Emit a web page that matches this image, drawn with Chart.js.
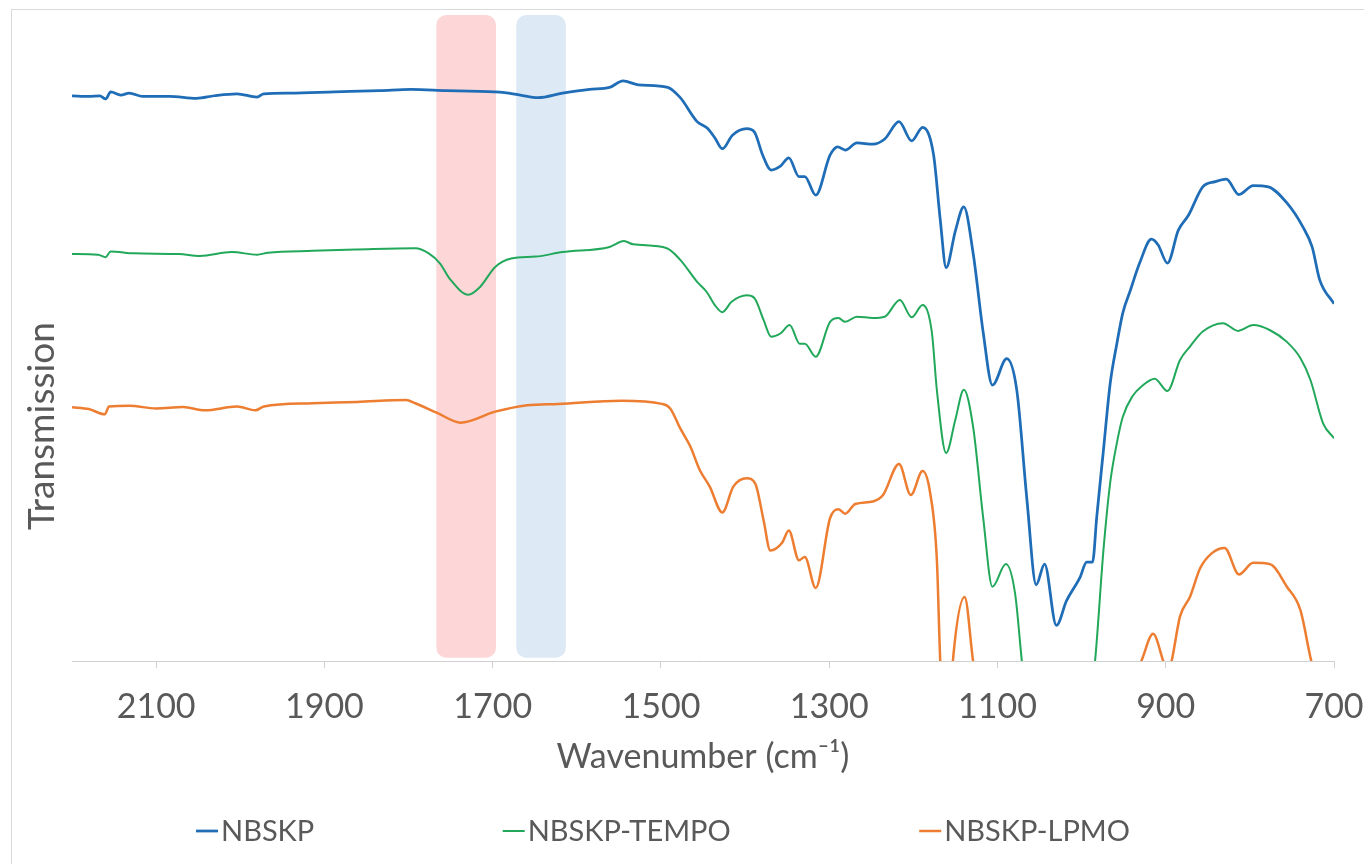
<!DOCTYPE html>
<html>
<head>
<meta charset="utf-8">
<script src="https://cdn.jsdelivr.net/npm/chart.js@4.4.1/dist/chart.umd.min.js"></script>
<style>
html,body{margin:0;padding:0;background:#fff;}
#wrap{width:1364px;height:864px;position:relative;}
</style>
</head>
<body>
<div id="wrap"><canvas id="c" width="1364" height="864"></canvas></div>
<script>
// ---- data ----
const xTicks = [2100, 1900, 1700, 1500, 1300, 1100, 900, 700];
const seriesNames = ['NBSKP', 'NBSKP-TEMPO', 'NBSKP-LPMO'];

const nbskpWn = [2200,2180,2167,2160,2154,2142,2132,2116,2084,2052,2031,2004,1980,1972,1941,1888,1834,1797,1755,1728,1686,1667,1646,1617,1585,1561,1545,1527,1492,1477,1457,1445,1436,1427,1415,1398,1389,1379,1369,1358,1348,1336,1329,1316,1299,1290,1281,1267,1248,1234,1217,1202,1189,1176,1168,1161,1150,1140,1129,1117,1106,1089,1077,1065,1054,1044,1030,1018,1002,994,987,982,974,966,958,951,942,931,917,909,898,885,873,856,841,828,813,796,778,756,737,726,717,700];
const nbskpT = [87.5,87.4,87.5,87.0,88.1,87.6,87.9,87.4,87.4,87.1,87.5,87.8,87.3,87.8,87.9,88.1,88.3,88.5,88.3,88.2,88.0,87.6,87.2,87.9,88.5,88.8,89.8,89.2,88.8,87.2,83.5,82.5,81.0,79.3,81.4,82.4,81.9,78.3,76.0,76.6,77.9,75.0,75.0,72.1,78.3,79.6,79.1,80.2,80.0,80.8,83.5,80.5,82.6,78.4,68.3,60.9,66.6,70.3,63.2,50.9,42.7,46.8,41.9,25.0,11.8,15.0,5.5,9.3,12.9,15.3,15.3,22.3,32.7,43.0,49.2,53.9,57.4,61.6,65.3,64.4,61.6,66.7,69.0,73.4,74.2,74.6,72.2,73.6,73.4,70.9,67.2,64.1,59.0,55.3];

const tempoWn = [2200,2169,2160,2154,2126,2073,2048,2010,1980,1967,1914,1861,1792,1776,1763,1750,1729,1715,1697,1678,1649,1617,1561,1544,1533,1493,1477,1457,1446,1436,1427,1416,1398,1389,1378,1369,1358,1347,1335,1329,1316,1299,1289,1281,1267,1248,1234,1216,1202,1189,1178,1172,1161,1150,1140,1129,1117,1106,1090,1079,1071,1061,1035,1000,984,974,966,958,951,940,927,913,898,883,871,856,832,814,796,776,756,740,728,713,700];
const tempoT = [63.0,62.9,62.5,63.4,63.1,63.0,62.7,63.3,62.9,63.2,63.5,63.7,63.9,63.1,61.6,59.0,56.7,57.9,61.0,62.3,62.6,63.3,64.1,65.0,64.5,63.9,62.1,58.7,57.2,55.1,54.0,55.6,56.6,56.2,52.8,50.2,50.7,52.0,49.1,49.1,47.1,52.5,53.1,52.5,53.3,53.1,53.3,55.9,53.2,55.1,50.9,41.9,32.2,37.4,42.0,36.3,22.2,11.5,15.0,10.4,0,-11,-25,-16,0,17.2,27.6,33.8,37.8,40.9,42.7,43.7,41.8,46.6,48.7,51.0,52.3,51.1,52.0,51.2,49.4,46.9,43.5,36.8,34.5];

const lpmoWn = [2200,2180,2161,2156,2132,2100,2068,2042,2004,1982,1972,1914,1861,1803,1792,1766,1738,1697,1659,1622,1547,1499,1489,1477,1465,1454,1442,1427,1414,1398,1388,1378,1370,1356,1348,1336,1329,1316,1299,1289,1281,1269,1248,1236,1217,1203,1189,1180,1172,1168,1160,1153,1139,1129,1117,1106,1090,1077,1054,1044,1030,1002,987,966,951,940,929,915,903,898,893,883,871,859,845,830,813,796,776,756,740,727,700];
const lpmoT = [39.3,39.0,38.2,39.4,39.5,39.1,39.3,38.8,39.4,38.8,39.4,39.9,40.1,40.4,39.9,38.4,36.9,38.6,39.6,39.8,40.3,39.8,39.1,36.0,33.2,29.6,27.0,23.0,27.0,28.3,27.5,21.8,17.1,18.3,20.2,15.6,16.1,11.3,22.1,23.5,22.8,24.3,24.7,25.7,30.5,25.7,29.4,26.0,15.6,0,-15,0,9.9,0,-10,-18,-14,-20,-48,-45,-55,-47,-45,-20,-8,-3,0,4.2,0,-2,0,6.9,10.0,14.4,16.7,17.5,13.4,15.2,15.0,11.5,7.9,0,-12];

// highlighted wavenumber bands (pink, blue)
const bandFrom = [1767, 1672];
const bandTo = [1696, 1613];

// ---- styles ----
const TEXT = '#595959';
const FONT = "Lato, 'Open Sans', sans-serif";
const colors = ['#1f6db6', '#22a85a', '#ed7d31'];
const widths = [2.75, 2, 2.5];
const bandColors = ['#fdd7d8', '#ddeaf6'];

const toPts = (wn, t) => wn.map((w, i) => ({x: w, y: t[i]}));
const seriesData = [toPts(nbskpWn, nbskpT), toPts(tempoWn, tempoT), toPts(lpmoWn, lpmoT)];

const decor = {
  id: 'decor',
  beforeDraw(chart) {
    const ctx = chart.ctx;
    ctx.save();
    ctx.fillStyle = '#ffffff';
    ctx.fillRect(0, 0, chart.width, chart.height);
    ctx.strokeStyle = '#d9d9d9';
    ctx.lineWidth = 1;
    ctx.strokeRect(11.5, 9.5, 1400, 900);
    ctx.restore();
  },
  beforeDatasetsDraw(chart) {
    const ctx = chart.ctx, xs = chart.scales.x, ys = chart.scales.y;
    ctx.save();
    bandFrom.forEach((f, i) => {
      const x1 = xs.getPixelForValue(f), x2 = xs.getPixelForValue(bandTo[i]);
      const y1 = ys.getPixelForValue(100), y2 = ys.getPixelForValue(0.5);
      ctx.fillStyle = bandColors[i];
      ctx.beginPath();
      ctx.roundRect(Math.min(x1, x2), y1, Math.abs(x2 - x1), y2 - y1, 10);
      ctx.fill();
    });
    ctx.restore();
  },
  afterDraw(chart) {
    const ctx = chart.ctx;
    ctx.save();
    // y axis title
    ctx.fillStyle = TEXT;
    ctx.font = '37px ' + FONT;
    ctx.textAlign = 'center';
    ctx.textBaseline = 'middle';
    ctx.translate(42, 426);
    ctx.rotate(-Math.PI / 2);
    ctx.fillText('Transmission', 0, 0);
    ctx.restore();

    // legend
    ctx.save();
    ctx.font = '29px ' + FONT;
    ctx.textBaseline = 'middle';
    ctx.textAlign = 'left';
    const lineLen = 22, gapLT = 3, cy = 831, left = 196, right = 1130;
    const items = chart.data.datasets.map(d => ({label: d.label, color: d.borderColor, w: d.borderWidth, tw: ctx.measureText(d.label).width}));
    const itemsW = items.reduce((s, it) => s + lineLen + gapLT + it.tw, 0);
    const gap = (right - left - itemsW) / (items.length - 1);
    let x = left;
    items.forEach(it => {
      ctx.strokeStyle = it.color;
      ctx.lineWidth = it.w;
      ctx.beginPath();
      ctx.moveTo(x, cy);
      ctx.lineTo(x + lineLen, cy);
      ctx.stroke();
      ctx.fillStyle = TEXT;
      ctx.fillText(it.label, x + lineLen + gapLT, cy + 1);
      x += lineLen + gapLT + it.tw + gap;
    });
    ctx.restore();
  }
};

new Chart(document.getElementById('c'), {
  type: 'line',
  data: {
    datasets: seriesNames.map((name, i) => ({
      label: name,
      data: seriesData[i],
      borderColor: colors[i],
      backgroundColor: colors[i],
      borderWidth: widths[i],
      pointRadius: 0,
      fill: false,
      cubicInterpolationMode: 'monotone',
      clip: 0
    }))
  },
  options: {
    responsive: false,
    animation: false,
    devicePixelRatio: 1,
    layout: {padding: {left: 72, right: 30, top: 15, bottom: 87}},
    plugins: {legend: {display: false}, tooltip: {enabled: false}},
    scales: {
      x: {
        type: 'linear',
        reverse: true,
        min: 700,
        max: 2200,
        afterBuildTicks: s => { s.ticks = xTicks.map(v => ({value: v})); },
        afterFit: s => { s.height = 116; s.paddingLeft = 0; s.paddingRight = 0; },
        ticks: {
          callback: v => String(v),
          color: TEXT,
          font: {family: FONT, size: 34},
          padding: 19,
          maxRotation: 0,
          autoSkip: false
        },
        grid: {drawOnChartArea: false, drawTicks: true, tickLength: 7, color: '#d0d0d0'},
        border: {color: '#d0d0d0', width: 1},
        title: {
          display: true,
          text: 'Wavenumber (cm⁻¹)',
          color: TEXT,
          font: {family: FONT, size: 34},
          padding: {top: 7, bottom: 0}
        }
      },
      y: {display: false, min: 0, max: 100}
    }
  },
  plugins: [decor]
});
</script>
</body>
</html>
